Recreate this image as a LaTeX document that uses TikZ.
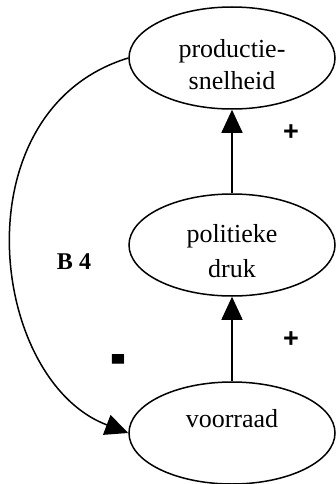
\documentclass[tikz,border=0pt]{standalone}
\usepackage{fontspec}
\setmainfont{Liberation Serif}
\newfontfamily\plusfont{Liberation Sans}
\usetikzlibrary{positioning,arrows.meta,shapes.geometric}

\begin{document}
\begin{tikzpicture}[x=1pt,y=-1pt,line width=1.5pt,
    oval/.style={draw,ellipse,minimum width=206pt,minimum height=102pt,inner sep=0pt},
    word/.style={anchor=base,font=\fontsize{26}{26}\selectfont},
    link/.style={-{Triangle[length=23pt,width=21pt]}},
    sign/.style={font=\plusfont\bfseries\fontsize{27}{27}\selectfont},
    every node/.style={inner sep=0pt}]
      \useasboundingbox (0,0) rectangle (335,484);
      % Variables of the loop
      \node[oval] (prod) at (232,58) {};
      \node[oval] (druk) at (232,245) {};
      \node[oval] (voorraad) at (232,433) {};
      \node[word] (prod1) at (232,58) {productie-};
      \node[word] (prod2) at (232,90) {snelheid};
      \node[word] (druk1) at (232,242) {politieke};
      \node[word] (druk2) at (232,277) {druk};
      \node[word] (voorraad1) at (232,427) {voorraad};
      % Positive links
      \draw[link] (voorraad.north) -- (druk.south);
      \draw[link] (druk.north) -- (prod.south);
      % Negative link back to the stock
      \draw[link] (prod.west) .. controls +(-170,52) and +(-140,-53) .. (voorraad.west);
      % Labels
      \node[sign] (plus1) at (291,133) {+};
      \node[sign] (plus2) at (291,340) {+};
      \node[font=\plusfont\fontsize{48}{48}\selectfont\bfseries] (min) at (118,367) {\scalebox{1}[1.7]{-}};
      \node[font=\fontsize{24}{24}\selectfont\bfseries] (loop) at (74,262) {B 4};
    \end{tikzpicture}
\end{document}
